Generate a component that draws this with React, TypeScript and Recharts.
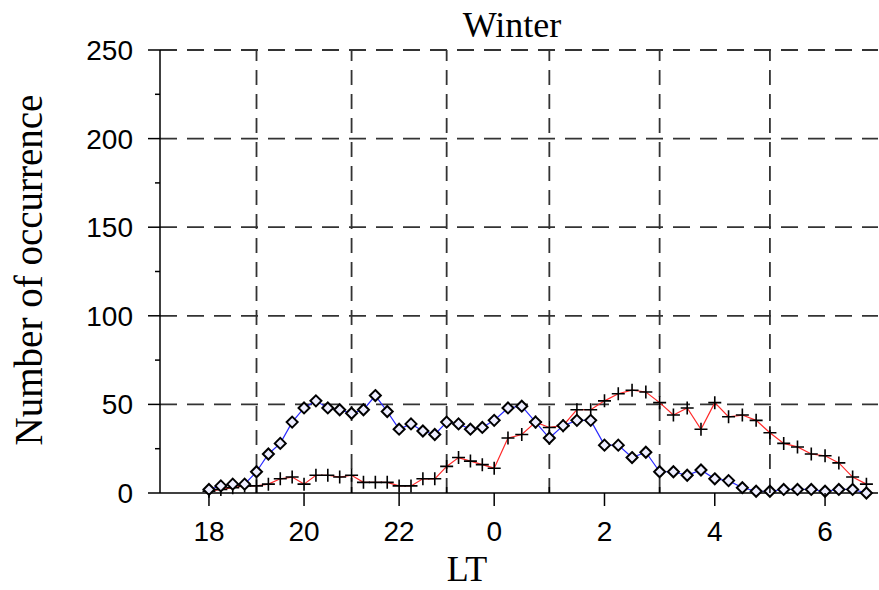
import React from 'react';
import { LineChart, Line, XAxis, YAxis, CartesianGrid, ReferenceLine } from 'recharts';

// Local time in hours (after midnight written as 24+)
const HOURS = [
  18, 18.25, 18.5, 18.75, 19, 19.25, 19.5, 19.75, 20, 20.25, 20.5, 20.75,
  21, 21.25, 21.5, 21.75, 22, 22.25, 22.5, 22.75, 23, 23.25, 23.5, 23.75,
  24, 24.25, 24.5, 24.75, 25, 25.25, 25.5, 25.75, 26, 26.25, 26.5, 26.75,
  27, 27.25, 27.5, 27.75, 28, 28.25, 28.5, 28.75, 29, 29.25, 29.5, 29.75,
  30, 30.25, 30.5, 30.75,
];

// blue series with diamond markers
const DIAMOND_SERIES = [
  2, 4, 5, 5, 12, 22, 28, 40, 48, 52, 48, 47,
  45, 47, 55, 46, 36, 39, 35, 33, 40, 39, 36, 37,
  41, 48, 49, 40, 31, 38, 41, 41, 27, 27, 20, 23,
  12, 12, 10, 13, 8, 7, 3, 1, 1, 2, 2, 2,
  1, 2, 2, 0,
];

// red series with plus markers
const CROSS_SERIES = [
  1, 2, 3, 4, 4, 5, 8, 9, 5, 10, 10, 9,
  10, 6, 6, 6, 4, 4, 8, 8, 15, 20, 18, 16,
  14, 31, 33, 40, 37, 38, 47, 47, 52, 56, 58, 57,
  51, 44, 48, 36, 51, 43, 44, 41, 34, 28, 26, 22,
  21, 17, 9, 5,
];

const X_TICKS = [18, 19, 20, 21, 22, 23, 24, 25, 26, 27, 28, 29, 30];
const X_GRID = [19, 21, 23, 25, 27, 29];
const X_DOMAIN = [16.97, 30.96];
const Y_TICKS = [0, 25, 50, 75, 100, 125, 150, 175, 200, 225, 250];
const Y_GRID = [50, 100, 150, 200, 250];

const TITLE = 'Winter';
const X_TITLE = 'LT';
const Y_TITLE = 'Number of occurrence';

const data = HOURS.map((h, i) => ({ hour: h, diamond: DIAMOND_SERIES[i], cross: CROSS_SERIES[i] }));

// The original plot draws the after-midnight hours wider than the evening ones.
const MIDNIGHT = 24;
const MORNING_STRETCH = 1.16;

function hourScale(dom: number[] = [0, 1], rng: number[] = [0, 1]): any {
  const warp = (v: number) => (v <= MIDNIGHT ? v : MIDNIGHT + (v - MIDNIGHT) * MORNING_STRETCH);
  const s: any = (v: number) => {
    const w0 = warp(dom[0]);
    const w1 = warp(dom[1]);
    return rng[0] + ((warp(Number(v)) - w0) / (w1 - w0)) * (rng[1] - rng[0]);
  };
  s.domain = (d?: any[]) => {
    if (d === undefined) return dom.slice();
    dom = [Number(d[0]), Number(d[d.length - 1])];
    return s;
  };
  s.range = (r?: any[]) => {
    if (r === undefined) return rng.slice();
    rng = [Number(r[0]), Number(r[r.length - 1])];
    return s;
  };
  s.copy = () => hourScale(dom.slice(), rng.slice());
  s.ticks = () => X_TICKS.slice();
  s.tickFormat = () => (v: any) => String(v);
  s.clamp = () => s;
  s.invert = (px: number) => {
    const w0 = warp(dom[0]);
    const w1 = warp(dom[1]);
    const w = w0 + ((px - rng[0]) / (rng[1] - rng[0])) * (w1 - w0);
    return w <= MIDNIGHT ? w : MIDNIGHT + (w - MIDNIGHT) / MORNING_STRETCH;
  };
  return s;
}

const SANS = '"Liberation Sans", Arial, sans-serif';
const SERIF = '"Liberation Serif", "Times New Roman", serif';

const XTick = (props: any) => {
  const { x, y, payload } = props;
  const v = Number(payload.value);
  const major = v % 2 === 0;
  return (
    <g>
      <line x1={x} x2={x} y1={y} y2={major ? y + 13 : y - 6} stroke="#000" strokeWidth={1.5} />
      {major && (
        <text x={x} y={y + 48} textAnchor="middle" fontFamily={SANS} fontSize={28} fill="#000">
          {v % 24}
        </text>
      )}
    </g>
  );
};

const YTick = (props: any) => {
  const { x, y, payload } = props;
  const v = Number(payload.value);
  const major = v % 50 === 0;
  return (
    <g>
      <line x1={x} x2={major ? x - 12 : x - 5} y1={y} y2={y} stroke="#000" strokeWidth={1.5} />
      {major && (
        <text x={x - 27} y={y + 10} textAnchor="end" fontFamily={SANS} fontSize={28} fill="#000">
          {v}
        </text>
      )}
    </g>
  );
};

const Diamond = (props: any) => {
  const { cx, cy } = props;
  if (cx == null || cy == null) return null;
  const r = 5.5;
  return (
    <path
      d={`M${cx},${cy - r}L${cx + r},${cy}L${cx},${cy + r}L${cx - r},${cy}Z`}
      fill="#eef"
      stroke="#000"
      strokeWidth={2}
    />
  );
};

const Cross = (props: any) => {
  const { cx, cy } = props;
  if (cx == null || cy == null) return null;
  const r = 6.5;
  return (
    <path d={`M${cx - r},${cy}H${cx + r}M${cx},${cy - r}V${cy + r}`} stroke="#000" strokeWidth={1.6} fill="none" />
  );
};

export default function App() {
  return (
    <div style={{ position: 'absolute', left: 0, top: 0, width: 879, height: 590, background: '#fff' }}>
      <LineChart width={879} height={590} data={data} margin={{ top: 50, right: 1, bottom: 0, left: 0 }}>
        <CartesianGrid
          vertical={false}
          horizontalValues={Y_GRID}
          stroke="#333"
          strokeWidth={1.8}
          strokeDasharray="17 10"
        />
        {X_GRID.map((h) => (
          <ReferenceLine key={h} x={h} stroke="#333" strokeWidth={1.8} strokeDasharray="15 9" />
        ))}
        <XAxis
          dataKey="hour"
          type="number"
          domain={X_DOMAIN}
          scale={hourScale()}
          ticks={X_TICKS}
          interval={0}
          tickSize={0}
          tickMargin={0}
          tickLine={false}
          tick={<XTick />}
          axisLine={{ stroke: '#000', strokeWidth: 1.5 }}
          height={97}
        />
        <YAxis
          type="number"
          domain={[0, 250]}
          ticks={Y_TICKS}
          interval={0}
          tickSize={0}
          tickMargin={0}
          tickLine={false}
          tick={<YTick />}
          axisLine={{ stroke: '#000', strokeWidth: 1.5 }}
          width={160}
        />
        <Line
          dataKey="cross"
          stroke="#ff2a2a"
          strokeWidth={1.2}
          dot={<Cross />}
          activeDot={false}
          isAnimationActive={false}
        />
        <Line
          dataKey="diamond"
          stroke="#2a2aff"
          strokeWidth={1.2}
          dot={<Diamond />}
          activeDot={false}
          isAnimationActive={false}
        />
      </LineChart>
      <svg
        width={879}
        height={590}
        style={{ position: 'absolute', left: 0, top: 0, pointerEvents: 'none' }}
      >
        <text x={512} y={37} textAnchor="middle" fontFamily={SERIF} fontSize={36} fill="#000">
          {TITLE}
        </text>
        <text x={467} y={581} textAnchor="middle" fontFamily={SERIF} fontSize={36} fill="#000">
          {X_TITLE}
        </text>
        <text
          transform="translate(42,270) rotate(-90)"
          textAnchor="middle"
          fontFamily={SERIF}
          fontSize={39}
          fill="#000"
        >
          {Y_TITLE}
        </text>
      </svg>
    </div>
  );
}
